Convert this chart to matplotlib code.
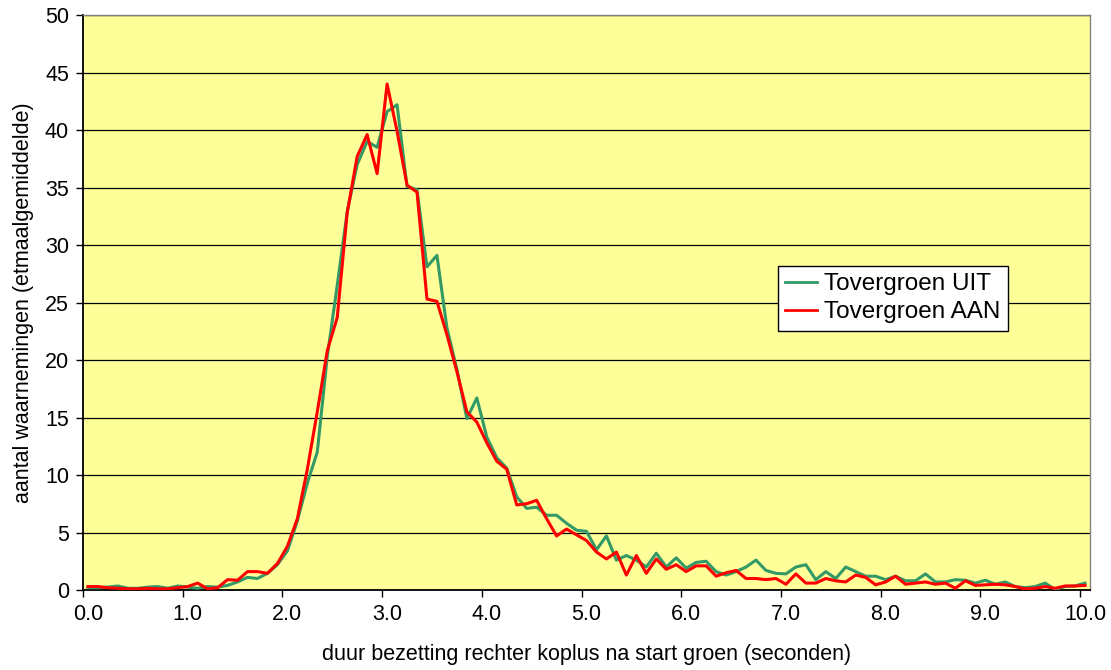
import numpy as np
import matplotlib
matplotlib.use('Agg')
import matplotlib.pyplot as plt
from matplotlib.ticker import FixedLocator

plt.rcParams['font.family'] = ['Liberation Sans', 'DejaVu Sans']

# duur in seconden, stappen van 0.1 s
duur = np.round(np.arange(0, 101) * 0.1, 1)

tovergroen_uit = [
    0.2, 0.2, 0.25, 0.35, 0.15, 0.15, 0.25, 0.3, 0.15, 0.35,
    0.25, 0.15, 0.3, 0.25, 0.4, 0.7, 1.1, 1.0, 1.45, 2.2,
    3.4, 6.0, 9.3, 12.0, 20.3, 26.5, 32.9, 37.0, 39.0, 38.5,
    41.6, 42.2, 35.1, 34.8, 28.1, 29.1, 22.8, 19.2, 14.9, 16.7,
    13.3, 11.5, 10.6, 8.1, 7.1, 7.2, 6.5, 6.5, 5.8, 5.2,
    5.1, 3.5, 4.7, 2.6, 3.0, 2.6, 2.0, 3.2, 2.0, 2.8,
    1.9, 2.4, 2.5, 1.6, 1.3, 1.6, 2.0, 2.6, 1.7, 1.45,
    1.4, 2.0, 2.2, 0.9, 1.6, 1.0, 2.0, 1.6, 1.2, 1.2,
    0.9, 1.2, 0.8, 0.8, 1.4, 0.7, 0.7, 0.9, 0.85, 0.6,
    0.85, 0.5, 0.7, 0.3, 0.2, 0.3, 0.6, 0.05, 0.3, 0.35,
    0.6,
]

tovergroen_aan = [
    0.3, 0.3, 0.2, 0.15, 0.1, 0.1, 0.15, 0.1, 0.1, 0.2,
    0.3, 0.6, 0.1, 0.2, 0.9, 0.85, 1.6, 1.6, 1.45, 2.3,
    3.8, 6.2, 10.5, 15.5, 20.8, 23.7, 32.8, 37.7, 39.6, 36.2,
    44.0, 39.9, 35.2, 34.6, 25.3, 25.1, 22.2, 19.0, 15.5, 14.6,
    12.8, 11.2, 10.5, 7.4, 7.5, 7.8, 6.2, 4.7, 5.3, 4.8,
    4.3, 3.3, 2.7, 3.3, 1.3, 3.0, 1.45, 2.7, 1.8, 2.2,
    1.6, 2.1, 2.1, 1.2, 1.5, 1.7, 1.0, 1.0, 0.9, 1.0,
    0.5, 1.4, 0.6, 0.6, 1.0, 0.8, 0.7, 1.3, 1.1, 0.45,
    0.7, 1.2, 0.5, 0.6, 0.7, 0.5, 0.6, 0.15, 0.8, 0.4,
    0.45, 0.5, 0.45, 0.3, 0.1, 0.15, 0.3, 0.15, 0.35, 0.35,
    0.4,
]

x_labels = ['%.1f' % v for v in range(11)]

fig = plt.figure(figsize=(11.11, 6.70), dpi=100)
ax = fig.add_axes([0.0747, 0.1194, 0.9064, 0.8582])
ax.set_facecolor('#FFFF99')

ax.plot(duur, tovergroen_uit, color='#339966', lw=2.2, label='Tovergroen UIT', zorder=3)
ax.plot(duur, tovergroen_aan, color='#FF0000', lw=2.2, label='Tovergroen AAN', zorder=4)

ax.set_xlim(-0.05, 10.05)
ax.set_ylim(0, 50)
ax.set_yticks(np.arange(0, 51, 5))
ax.yaxis.grid(True, color='black', lw=0.9)
ax.set_axisbelow(True)

ax.set_xticks(np.arange(11))
ax.set_xticklabels(x_labels)
ax.xaxis.set_minor_locator(FixedLocator(np.arange(11) - 0.05))
ax.tick_params(axis='x', which='major', length=0, pad=10, labelsize=15.5)
ax.tick_params(axis='x', which='minor', length=5, width=1, direction='out')
ax.tick_params(axis='y', length=5, width=1, direction='out', labelsize=15.5, pad=5)

for side in ['left', 'bottom']:
    ax.spines[side].set_linewidth(1.3)
    ax.spines[side].set_color('black')
for side in ['top', 'right']:
    ax.spines[side].set_linewidth(1.0)
    ax.spines[side].set_color('#808080')

ax.set_xlabel('duur bezetting rechter koplus na start groen (seconden)', fontsize=15.5, labelpad=14)
ax.set_ylabel('aantal waarnemingen (etmaalgemiddelde)', fontsize=15.5, labelpad=8)

leg = ax.legend(loc='upper left', bbox_to_anchor=(0.690, 0.5635), borderaxespad=0,
                fontsize=17.5, frameon=True, fancybox=False, handlelength=1.3,
                handletextpad=0.3, borderpad=0.3, labelspacing=0.25)
leg.get_frame().set_edgecolor('black')
leg.get_frame().set_linewidth(1.0)
leg.get_frame().set_facecolor('white')
leg.get_frame().set_alpha(1)
for line in leg.get_lines():
    line.set_linewidth(2.0)

fig.savefig('out.png', dpi=100)
